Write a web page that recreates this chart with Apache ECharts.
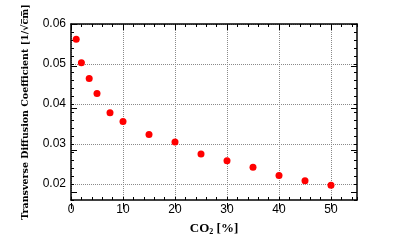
<!DOCTYPE html>
<html>
<head>
<meta charset="utf-8">
<script src="https://cdn.jsdelivr.net/npm/echarts@6/dist/echarts.min.js"></script>
<style>html,body{margin:0;padding:0;background:#fff;}#c{width:397px;height:241px;}</style>
</head>
<body>
<div id="c"></div>
<script>
// Data
const co2 = [1, 2, 3.5, 5, 7.5, 10, 15, 20, 25, 30, 35, 40, 45, 50];
const diffusion = [0.0562, 0.0503, 0.0464, 0.0426, 0.0378, 0.0356, 0.0324, 0.0305, 0.0275, 0.0258, 0.0242, 0.0221, 0.0208, 0.0197];
const xMajorTicks = [0, 10, 20, 30, 40, 50];
const yMajorTicks = [0.02, 0.03, 0.04, 0.05, 0.06];

const X_MIN = 0, X_MAX = 55, Y_MIN = 0.016, Y_MAX = 0.06;
const isMult = (v, m) => Math.abs(v / m - Math.round(v / m)) < 1e-6;

const chart = echarts.init(document.getElementById('c'));
const lbl = () => ({ fontFamily: 'Liberation Sans', fontSize: 12, color: '#000' });
const gridColor = '#8a8a8a';
const g = () => ({ left: 71, top: 24, right: 40, bottom: 32 });
const frame = () => ({ show: true, onZero: false, lineStyle: { color: '#000', width: 1.5 } });
const noLine = () => ({ show: false, onZero: false });
const noSplit = () => ({ show: false });
const minorTick = () => ({ show: true, inside: true, length: 3, lineStyle: { color: '#000', width: 1 } });
const majorTick = (vals) => ({ show: true, inside: true, length: 6, customValues: vals.slice(), lineStyle: { color: '#000', width: 1 } });

chart.setOption({
  animation: false,
  backgroundColor: '#fff',
  grid: [g(), g()],
  xAxis: [
    { gridIndex: 0, type: 'value', position: 'bottom', min: X_MIN, max: X_MAX, interval: 2,
      axisLine: frame(), axisTick: minorTick(),
      axisLabel: Object.assign({ margin: 4, formatter: v => isMult(v, 10) ? String(v) : '' }, lbl()),
      splitLine: { show: true, lineStyle: { type: [1, 1], width: 1, color: [gridColor, 'transparent', 'transparent', 'transparent', 'transparent'] } },
      name: 'CO{s|2} [%]', nameLocation: 'middle', nameGap: 22,
      nameTextStyle: { fontFamily: 'Liberation Serif', fontWeight: 'bold', fontSize: 13, color: '#000',
        rich: { s: { fontFamily: 'Liberation Serif', fontWeight: 'bold', fontSize: 8, verticalAlign: 'bottom', padding: [6, 0, 0, 0] } } } },
    { gridIndex: 0, type: 'value', position: 'top', min: X_MIN, max: X_MAX, interval: 2,
      axisLine: frame(), axisTick: minorTick(), axisLabel: { show: false }, splitLine: noSplit() },
    { gridIndex: 1, type: 'value', position: 'bottom', min: X_MIN, max: X_MAX, interval: 10,
      axisLine: noLine(), axisTick: majorTick(xMajorTicks), axisLabel: { show: false }, splitLine: noSplit() },
    { gridIndex: 1, type: 'value', position: 'top', min: X_MIN, max: X_MAX, interval: 10,
      axisLine: noLine(), axisTick: majorTick(xMajorTicks), axisLabel: { show: false }, splitLine: noSplit() }
  ],
  yAxis: [
    { gridIndex: 0, type: 'value', position: 'left', min: Y_MIN, max: Y_MAX, interval: 0.002,
      axisLine: frame(), axisTick: minorTick(),
      axisLabel: Object.assign({ margin: 5, formatter: v => isMult(v, 0.01) ? v.toFixed(2) : '' }, lbl()),
      splitLine: { show: true, lineStyle: { type: [1, 1], width: 1, color: ['transparent', 'transparent', gridColor, 'transparent', 'transparent'] } },
      name: 'Transverse Diffusion Coefficient [1/\u221Ac\u0305m\u0305]', nameLocation: 'middle', nameGap: 40,
      nameTextStyle: { fontFamily: 'DejaVu Serif', fontWeight: 'bold', fontSize: 9.5, color: '#000' } },
    { gridIndex: 0, type: 'value', position: 'right', min: Y_MIN, max: Y_MAX, interval: 0.002,
      axisLine: frame(), axisTick: minorTick(), axisLabel: { show: false }, splitLine: noSplit() },
    { gridIndex: 1, type: 'value', position: 'left', min: Y_MIN, max: Y_MAX,
      axisLine: noLine(), axisTick: majorTick(yMajorTicks), axisLabel: { show: false }, splitLine: noSplit() },
    { gridIndex: 1, type: 'value', position: 'right', min: Y_MIN, max: Y_MAX,
      axisLine: noLine(), axisTick: majorTick(yMajorTicks), axisLabel: { show: false }, splitLine: noSplit() }
  ],
  series: [{
    type: 'scatter',
    xAxisIndex: 0, yAxisIndex: 0,
    symbol: 'circle', symbolSize: 7,
    itemStyle: { color: '#ff0000', opacity: 1 },
    data: co2.map((x, i) => [x, diffusion[i]])
  }]
});
</script>
</body>
</html>
